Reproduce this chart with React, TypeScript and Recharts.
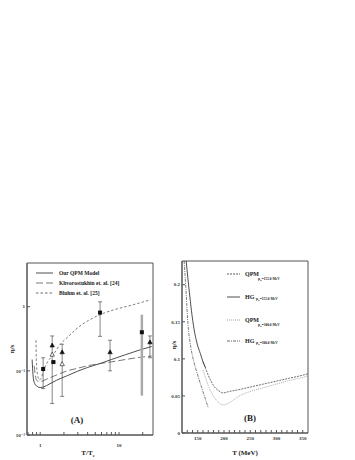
import React from 'react';
import {
  ComposedChart, Line, Scatter, XAxis, YAxis, ErrorBar, ReferenceArea,
} from 'recharts';

const FONT = '"Liberation Serif", "DejaVu Serif", serif';

// ---- panel (A): eta/s vs T/Tc (log-log)
const qpmT = [0.79, 0.8, 0.82, 0.86, 0.92, 1.0, 1.1, 1.3, 1.6, 2.2, 3, 4, 5.75, 8, 12, 18, 26];
const qpmV = [0.15, 0.11, 0.075, 0.062, 0.057, 0.055, 0.056, 0.062, 0.071, 0.084, 0.099, 0.113, 0.13, 0.15, 0.178, 0.21, 0.24];

const khvT = [0.84, 0.86, 0.9, 0.95, 1.0, 1.2, 1.5, 2.2, 3, 4, 5.75, 8, 12, 18, 26];
const khvV = [0.12, 0.09, 0.072, 0.068, 0.068, 0.074, 0.083, 0.1, 0.11, 0.12, 0.13, 0.138, 0.15, 0.162, 0.17];

const bluT = [0.885, 0.89, 0.9, 0.93, 0.97, 1.02, 1.1, 1.25, 1.47, 1.8, 2.2, 3.2, 4, 5.75, 8, 10, 15, 20, 25];
const bluV = [0.3, 0.18, 0.12, 0.085, 0.072, 0.075, 0.1, 0.14, 0.18, 0.26, 0.33, 0.5, 0.6, 0.75, 0.87, 0.94, 1.07, 1.18, 1.28];

const sqT = [1.09, 1.47, 5.75];
const sqV = [0.107, 0.137, 0.81];
const sqLo = [0.053, 0.137, 0.345];
const sqHi = [0.16, 0.137, 1.19];

const graySqT = [19.5];
const graySqV = [0.4];
const graySqLo = [0.041];
const graySqHi = [0.75];

const triT = [1.42, 1.9, 7.7, 24.7];
const triV = [0.25, 0.196, 0.196, 0.28];
const triLo = [0.031, 0.04, 0.1, 0.16];
const triHi = [0.35, 0.26, 0.3, 0.35];

const openTriT = [1.42, 1.9];
const openTriV = [0.18, 0.128];

const xTicksA = [0.7, 0.8, 0.9, 1, 2, 3, 4, 5, 6, 7, 8, 9, 10, 20];
const xLabelsA: Record<number, string> = { 1: '1', 10: '10' };
const yTicksA = [0.01, 0.1, 1];
const yLabelsA: Record<number, string> = { 0.01: '10⁻²', 0.1: '10⁻¹', 1: '1' };

// ---- panel (B): eta/s vs T (MeV)
const qpm155T = [160, 165, 170, 180, 190, 198, 210, 225, 250, 275, 300, 325, 350, 360];
const qpm155V = [0.096, 0.087, 0.078, 0.064, 0.057, 0.054, 0.056, 0.058, 0.062, 0.066, 0.07, 0.074, 0.078, 0.08];

const hg155T = [128, 131, 134, 138, 143, 149, 155, 160, 165];
const hg155V = [0.232, 0.21, 0.19, 0.165, 0.14, 0.12, 0.107, 0.096, 0.088];

const qpm300T = [160, 165, 170, 180, 190, 198, 205, 215, 225, 235, 250, 275, 300, 325, 350, 360];
const qpm300V = [0.085, 0.074, 0.064, 0.05, 0.041, 0.038, 0.039, 0.043, 0.048, 0.052, 0.056, 0.061, 0.066, 0.071, 0.075, 0.077];

const hg300T = [124, 127, 131, 137, 143, 150, 158, 165, 170];
const hg300V = [0.232, 0.2, 0.15, 0.115, 0.095, 0.078, 0.06, 0.045, 0.034];

const xTicksB = [130, 140, 150, 160, 170, 180, 190, 200, 210, 220, 230, 240, 250, 260, 270, 280, 290, 300, 310, 320, 330, 340, 350];
const xLabelsB = [150, 200, 250, 300, 350];
const yTicksB = [0, 0.05, 0.1, 0.15, 0.2];
const yLabelsB = ['0', '0.05', '0.1', '0.15', '0.2'];

const zip = (ts: number[], vs: number[]) => ts.map((T, i) => ({ T, v: vs[i] }));
const withErr = (ts: number[], vs: number[], lo: number[], hi: number[]) =>
  ts.map((T, i) => ({ T, v: vs[i], err: [vs[i] - lo[i], hi[i] - vs[i]] }));

const tickStyle = { fontSize: 5, fontWeight: 'bold', fill: '#333', fontFamily: FONT };

// small markers (the default symbol sizes are too big for this figure)
const SquareMark = (p: any) => (
  <rect x={p.cx - 2} y={p.cy - 2} width={4} height={4} fill="#111" />
);
const TriMark = (p: any) => (
  <path d={`M${p.cx},${p.cy - 2.3} L${p.cx + 2.2},${p.cy + 1.7} L${p.cx - 2.2},${p.cy + 1.7} Z`}
    fill={p.fill} stroke="#111" strokeWidth={0.6} />
);

function PanelA() {
  return (
    <ComposedChart width={165} height={210} margin={{ top: 13, right: 12, bottom: 0, left: 0 }}>
      <XAxis dataKey="T" type="number" scale="log" domain={[0.68, 27]} allowDataOverflow
        ticks={xTicksA} interval={0} tickFormatter={(t: number) => xLabelsA[t] ?? ''}
        height={25} tickSize={-3} tickMargin={11} stroke="#555" tick={tickStyle} />
      <YAxis dataKey="v" type="number" scale="log" domain={[0.01, 4.8]} allowDataOverflow
        ticks={yTicksA} interval={0} tickFormatter={(t: number) => yLabelsA[t] ?? ''}
        width={27} tickSize={-3} tickMargin={5} stroke="#555" tick={tickStyle} />
      <ReferenceArea x1={0.68} x2={27} y1={0.01} y2={4.8} fill="none" stroke="#555" strokeWidth={1} />
      <Line data={zip(qpmT, qpmV)} dataKey="v" type="monotone" stroke="#222" strokeWidth={0.8} dot={false} isAnimationActive={false} />
      <Line data={zip(khvT, khvV)} dataKey="v" type="monotone" stroke="#555" strokeWidth={0.8} strokeDasharray="7 3" dot={false} isAnimationActive={false} />
      <Line data={zip(bluT, bluV)} dataKey="v" type="monotone" stroke="#444" strokeWidth={0.7} strokeDasharray="2.5 2" dot={false} isAnimationActive={false} />
      <Scatter data={withErr(graySqT, graySqV, graySqLo, graySqHi)} shape={SquareMark} isAnimationActive={false}>
        <ErrorBar dataKey="err" direction="y" width={0} stroke="#aaa" strokeWidth={2.5} />
      </Scatter>
      <Scatter data={withErr(sqT, sqV, sqLo, sqHi)} shape={SquareMark} isAnimationActive={false}>
        <ErrorBar dataKey="err" direction="y" width={2} stroke="#333" strokeWidth={0.6} />
      </Scatter>
      <Scatter data={withErr(triT, triV, triLo, triHi)} shape={TriMark} fill="#111" isAnimationActive={false}>
        <ErrorBar dataKey="err" direction="y" width={2} stroke="#333" strokeWidth={0.6} />
      </Scatter>
      <Scatter data={zip(openTriT, openTriV)} shape={TriMark} fill="#fff" isAnimationActive={false} />
    </ComposedChart>
  );
}

function PanelB() {
  return (
    <ComposedChart width={158} height={210} margin={{ top: 11, right: 5, bottom: 0, left: 0 }}>
      <XAxis dataKey="T" type="number" domain={[120, 360]} allowDataOverflow
        ticks={xTicksB} interval={0}
        tickFormatter={(t: number) => (xLabelsB.includes(t) ? String(t) : '')}
        height={27} tickSize={-3} tickMargin={6} stroke="#555" tick={tickStyle} />
      <YAxis dataKey="v" type="number" domain={[0, 0.232]} allowDataOverflow
        ticks={yTicksB} interval={0}
        tickFormatter={(t: number) => yLabelsB[yTicksB.indexOf(t)] ?? ''}
        width={27} tickSize={-3} tickMargin={5} stroke="#555" tick={tickStyle} />
      <ReferenceArea x1={120} x2={360} y1={0} y2={0.232} fill="none" stroke="#555" strokeWidth={1} />
      <Line data={zip(hg300T, hg300V)} dataKey="v" type="monotone" stroke="#444" strokeWidth={0.7} strokeDasharray="3 1 1 1" dot={false} isAnimationActive={false} />
      <Line data={zip(qpm300T, qpm300V)} dataKey="v" type="monotone" stroke="#888" strokeWidth={0.7} strokeDasharray="1 1" dot={false} isAnimationActive={false} />
      <Line data={zip(qpm155T, qpm155V)} dataKey="v" type="monotone" stroke="#333" strokeWidth={0.7} strokeDasharray="2 1" dot={false} isAnimationActive={false} />
      <Line data={zip(hg155T, hg155V)} dataKey="v" type="monotone" stroke="#222" strokeWidth={0.8} dot={false} isAnimationActive={false} />
    </ComposedChart>
  );
}

const legendA = [
  { label: 'Our QPM Model', dash: undefined, color: '#222' },
  { label: 'Khvorostukhin et. al. [24]', dash: '7 3', color: '#555' },
  { label: 'Bluhm et. al. [25]', dash: '2.5 2', color: '#444' },
];

const legendB = [
  { name: 'QPM', mu: '155.0', dash: '2 1', color: '#333', below: true },
  { name: 'HG', mu: '155.0', dash: undefined, color: '#222', below: false },
  { name: 'QPM', mu: '300.0', dash: '1 1', color: '#888', below: true },
  { name: 'HG', mu: '300.0', dash: '3 1 1 1', color: '#444', below: false },
];

function Overlay() {
  const bold = { fontFamily: FONT, fontWeight: 'bold', fill: '#222' } as const;
  return (
    <svg width={355} height={460} style={{ position: 'absolute', left: 0, top: 0, pointerEvents: 'none' }}>
      {legendA.map((e, i) => (
        <g key={i}>
          <line x1={36} x2={53} y1={273 + i * 10} y2={273 + i * 10} stroke={e.color} strokeWidth={0.8} strokeDasharray={e.dash} />
          <text x={59} y={275 + i * 10} fontSize={5.5} {...bold}>{e.label}</text>
        </g>
      ))}
      {legendB.map((e, i) => {
        const y = [274, 297, 320, 341][i];
        const sx = e.below ? 258 : 256;
        const sy = e.below ? y + 6 : y + 3;
        return (
          <g key={i}>
            <line x1={227} x2={240} y1={y} y2={y} stroke={e.color} strokeWidth={0.8} strokeDasharray={e.dash} />
            <text x={245} y={y + 2} fontSize={6} {...bold}>{e.name}</text>
            <text x={sx} y={sy} fontSize={3.5} {...bold}>
              μ<tspan fontSize={2.5} dy={1}>B</tspan><tspan dy={-1}>=</tspan>{e.mu} MeV
            </text>
          </g>
        );
      })}
      <text x={77} y={423} fontSize={9} textAnchor="middle" {...bold}>(A)</text>
      <text x={250} y={421} fontSize={9} textAnchor="middle" {...bold}>(B)</text>
      <text x={0} y={0} fontSize={7} textAnchor="middle" transform="translate(14,349) rotate(-90)" {...bold}>η/s</text>
      <text x={0} y={0} fontSize={7} textAnchor="middle" transform="translate(176,345) rotate(-90)" {...bold}>η/s</text>
      <text x={88} y={455} fontSize={7} textAnchor="middle" {...bold}>
        T/T<tspan fontSize={4.5} dy={1.5}>c</tspan>
      </text>
      <text x={245} y={455} fontSize={7} textAnchor="middle" {...bold}>T (MeV)</text>
    </svg>
  );
}

export default function App() {
  return (
    <div style={{ position: 'absolute', left: 0, top: 0, width: 355, height: 460, background: '#fff', fontFamily: FONT }}>
      <div style={{ position: 'absolute', left: 0, top: 250 }}>
        <PanelA />
      </div>
      <div style={{ position: 'absolute', left: 155, top: 250 }}>
        <PanelB />
      </div>
      <Overlay />
    </div>
  );
}
